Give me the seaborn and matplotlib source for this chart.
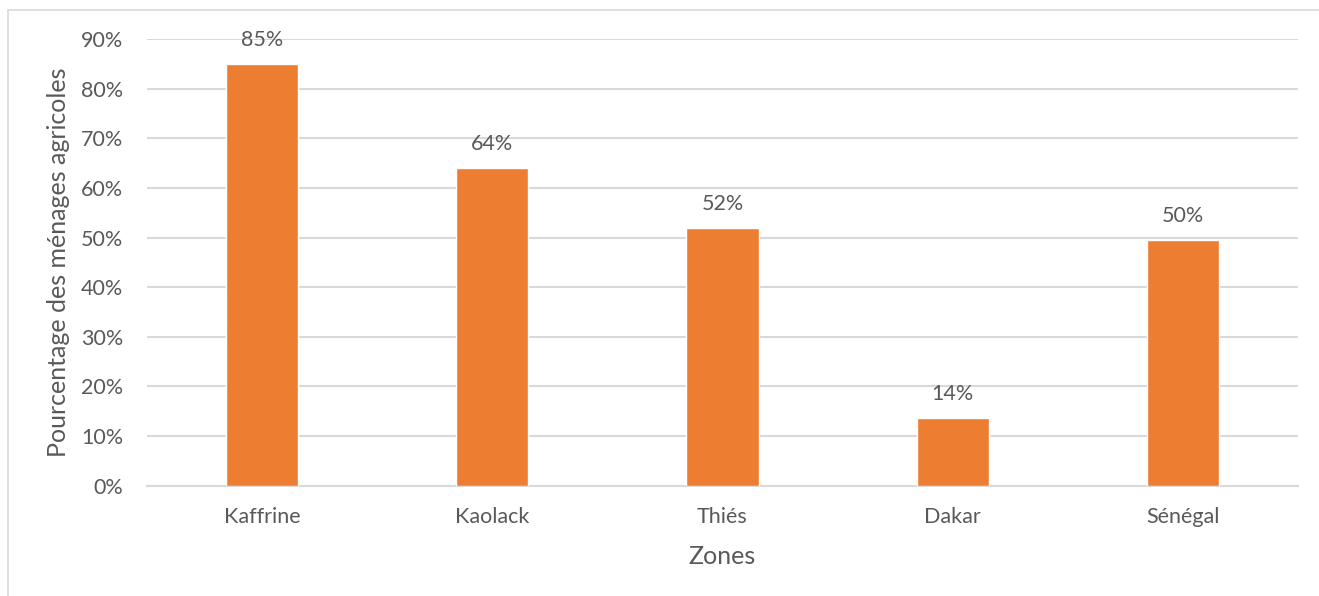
import matplotlib
matplotlib.use("Agg")
import matplotlib.pyplot as plt
import seaborn as sns
import pandas as pd
from matplotlib.patches import Rectangle
from matplotlib.ticker import PercentFormatter

zones = ["Kaffrine", "Kaolack", "Thiés", "Dakar", "Sénégal"]
values = [0.849, 0.640, 0.519, 0.136, 0.495]
labels = ["85%", "64%", "52%", "14%", "50%"]

df = pd.DataFrame({"Zones": zones, "pct": values})

sns.set_theme(style="white")
plt.rcParams["font.family"] = ["Lato", "DejaVu Sans"]

grey_txt = "#595959"
grid_col = "#d9d9d9"

fig = plt.figure(figsize=(13.19, 5.96), dpi=100)
ax = fig.add_axes([0.1112, 0.185, 0.8731, 0.7496])

sns.barplot(data=df, x="Zones", y="pct", color="#ED7D31", saturation=1,
            width=0.314, ax=ax, zorder=3)

ax.set_ylim(0, 0.9)
ax.set_xlim(-0.5, len(zones) - 0.5)
ax.set_yticks([i / 10 for i in range(10)])
ax.yaxis.set_major_formatter(PercentFormatter(1.0, decimals=0))
ax.grid(axis="y", color=grid_col, linewidth=1.5, zorder=0)
for s in ["top", "right", "left"]:
    ax.spines[s].set_visible(False)
ax.spines["bottom"].set_color(grid_col)
ax.spines["bottom"].set_linewidth(1.5)
ax.tick_params(axis="both", length=0, labelsize=15.5, colors=grey_txt)
ax.tick_params(axis="y", pad=17)
ax.tick_params(axis="x", pad=15)

ax.set_xlabel("Zones", fontsize=18, color=grey_txt, labelpad=13)
ax.set_ylabel("Pourcentage des ménages agricoles", fontsize=18, color=grey_txt, labelpad=8)

for i, (v, lab) in enumerate(zip(values, labels)):
    ax.annotate(lab, xy=(i, v), xytext=(0, 13), textcoords="offset points",
                ha="center", va="baseline", fontsize=15.5, color=grey_txt)

fig.patches.append(Rectangle((8 / 1319, -0.1), 1.2, 1 - 10 / 596 + 0.1,
                             transform=fig.transFigure, fill=False,
                             edgecolor="#d9d9d9", linewidth=1.2))

fig.savefig("out.png", dpi=100)
